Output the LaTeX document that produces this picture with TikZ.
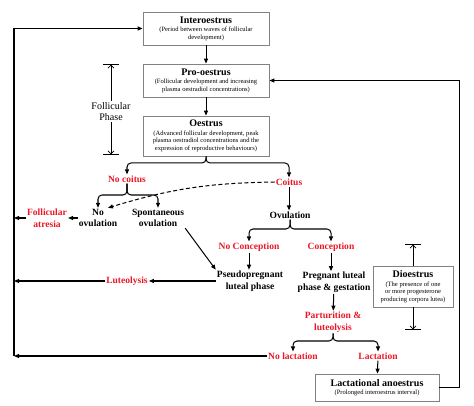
\documentclass[tikz,border=0pt]{standalone}
\usepackage{fontspec}
\setmainfont{Liberation Serif}
\usetikzlibrary{arrows.meta}
\definecolor{labelred}{RGB}{232,24,40}
\definecolor{boxgray}{RGB}{130,130,130}
\newcommand{\statetitle}[1]{{\fontsize{10}{12}\selectfont\bfseries #1}}
\begin{document}
\begin{tikzpicture}[x=0.35mm, y=-0.35mm,
    statebox/.style={draw=boxgray, line width=0.8pt, align=center, inner sep=1pt, font=\fontsize{6.5}{7.5}\selectfont},
    lbl/.style={font=\fontsize{9.5}{11.5}\selectfont\bfseries, align=center, inner sep=1pt},
    redlbl/.style={lbl, text=labelred},
    arr/.style={-{Triangle[length=5pt,width=4pt]}, line width=1pt},
    fork/.style={arr, rounded corners=1.4mm},
    bartop/.style={line width=0.7pt, {Bar[width=5.6mm]Straight Barb[length=3pt,width=6pt]}-},
    barbot/.style={line width=0.7pt, -{Straight Barb[length=3pt,width=6pt]Bar[width=5.6mm]}}]
    \useasboundingbox (0,0) rectangle (474,406);

    % Phasen-Kasten
    \node[statebox, minimum width=44.1mm, minimum height=11.55mm] (inter) at (206,28.5)
        {\statetitle{Interoestrus}\\[1pt](Period between waves of follicular\\development)};
    \node[statebox, minimum width=44.1mm, minimum height=11.55mm] (pro) at (206,80.5)
        {\statetitle{Pro-oestrus}\\[1pt](Follicular development and increasing\\plasma oestradiol concentrations)};
    \node[statebox, minimum width=44.1mm, minimum height=14mm] (oes) at (206,136)
        {\statetitle{Oestrus}\\[1pt](Advanced follicular development, peak\\plasma oestradiol concentrations and the\\expression of reproductive behaviours)};
    \node[statebox, minimum width=28mm, minimum height=14.35mm] (dio) at (413,286.5)
        {\statetitle{Dioestrus}\\[1pt](The presence of one\\or more progesterone\\producing corpora lutea)};
    \node[statebox, minimum width=43.4mm, minimum height=9.45mm] (lanoe) at (377,387.5)
        {\statetitle{Lactational anoestrus}\\[1pt](Prolonged interoestrus interval)};

    % Ereignisse
    \node[redlbl] (nocoitus) at (127,179) {No coitus};
    \node[redlbl] (coitus) at (289,182) {Coitus};
    \node[lbl] (noov) at (98,218) {No\\ovulation};
    \node[lbl] (spont) at (158,218) {Spontaneous\\ovulation};
    \node[redlbl] (atresia) at (47,218) {Follicular\\atresia};
    \node[lbl] (ovul) at (290,215) {Ovulation};
    \node[redlbl] (nocon) at (249,247) {No Conception};
    \node[redlbl] (con) at (331,247) {Conception};
    \node[lbl] (pseudo) at (250,281) {Pseudopregnant\\luteal phase};
    \node[lbl] (preg) at (334,282.5) {Pregnant luteal\\phase \& gestation};
    \node[redlbl] (luteo) at (127,281) {Luteolysis};
    \node[redlbl] (part) at (333,322) {Parturition \&\\luteolysis};
    \node[redlbl] (nolact) at (293,356) {No lactation};
    \node[redlbl] (lact) at (378,356) {Lactation};

    % Phasen-Klammern
    \node[font=\fontsize{10}{11}\selectfont, align=center, inner sep=1pt] (phase) at (111,111.5) {Follicular\\Phase};
    \coordinate (fptop) at (111,64);
    \coordinate (fpbot) at (111,155);
    \draw[bartop] (fptop) -- (phase.north);
    \draw[barbot] (phase.south) -- (fpbot);
    \coordinate (diotop) at (413,244);
    \coordinate (diobot) at (413,330);
    \draw[bartop] (diotop) -- (dio.north);
    \draw[barbot] (dio.south) -- (diobot);

    % Hauptkette
    \draw[arr] (inter) -- (pro);
    \draw[arr] (pro) -- (oes);

    % Verzweigungen
    \coordinate (oesfork) at (206,163);
    \draw[fork] (oes.south) |- (oesfork -| nocoitus) -- (nocoitus.north);
    \draw[fork] (oes.south) |- (oesfork -| coitus) -- (coitus.north);
    \coordinate (ncfork) at (127,195);
    \draw[fork] (nocoitus.south) |- (ncfork -| noov) -- (noov.north);
    \draw[fork] (nocoitus.south) |- (ncfork -| spont) -- (spont.north);
    \coordinate (ovfork) at (290,229);
    \draw[fork] (ovul.south) |- (ovfork -| nocon) -- (nocon.north);
    \draw[fork] (ovul.south) |- (ovfork -| con) -- (con.north);
    \coordinate (partfork) at (333,341);
    \draw[fork] (part.south) |- (partfork -| nolact) -- (nolact.north);
    \draw[fork] (part.south) |- (partfork -| lact) -- (lact.north);

    % Einzelpfeile
    \draw[arr, dash pattern=on 4pt off 2.5pt] (coitus.west) to[bend right=8] ([xshift=3.5mm]noov.north);
    \draw[arr] (coitus) -- (coitus |- ovul.north);
    \draw[arr] (noov) -- (atresia);
    \draw[arr] (spont.south east) -- (pseudo.north west);
    \draw[arr] (nocon) -- (nocon |- pseudo.north);
    \draw[arr] (con) -- (con |- preg.north);
    \draw[arr] (pseudo) -- (luteo);
    \draw[arr] (preg) -- (part);
    \draw[arr] (lact) -- (lanoe);

    % Rueckfuehrungen
    \coordinate (lline) at (14,0);
    \coordinate (rline) at (459,0);
    \draw[arr] (atresia) -- (atresia -| lline);
    \draw[arr] (luteo) -- (luteo -| lline);
    \draw[arr] (nolact) -- (nolact -| lline);
    \draw[arr] (nolact -| lline) |- (inter);
    \draw[arr] (lanoe) -| (rline |- pro) -- (pro);
\end{tikzpicture}
\end{document}
